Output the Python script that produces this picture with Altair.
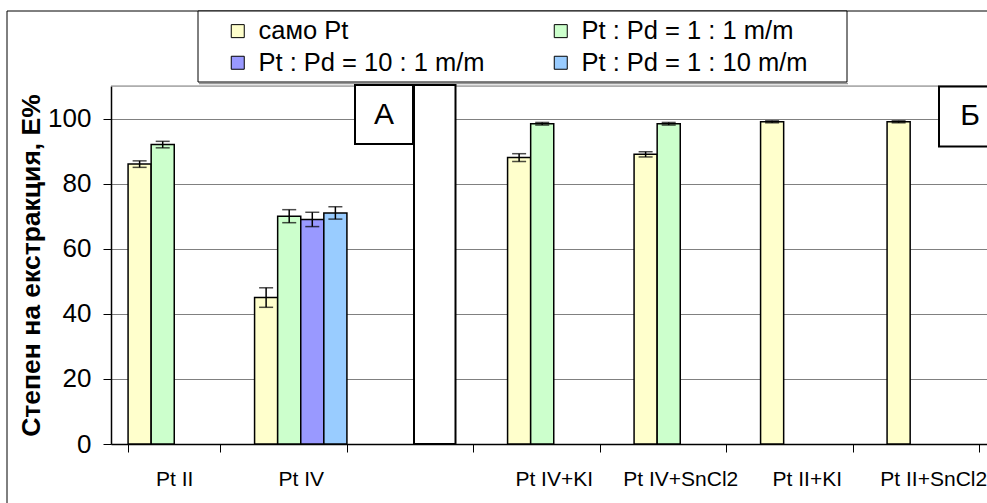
import altair as alt
import pandas as pd

# Categories on the x axis (" " is the empty slot between panels A and Б)
categories = ["Pt II", "Pt IV", " ", "Pt IV+KI", "Pt IV+SnCl2", "Pt II+KI", "Pt II+SnCl2"]
series = ["само Pt", "Pt : Pd = 1 : 1 m/m", "Pt : Pd = 10 : 1 m/m", "Pt : Pd = 1 : 10 m/m"]
colors = ["#FFFFCC", "#CCFFCC", "#9999FF", "#99CCFF"]

# Degree of extraction E% and its error, per series (None = not measured)
samo_pt = [86, 45, None, 88, 89, 99, 99]
samo_pt_err = [1.0, 3.0, None, 1.2, 0.8, 0.3, 0.3]
pd_1_1 = [92, 70, None, 98.4, 98.4, None, None]
pd_1_1_err = [1.0, 2.0, None, 0.4, 0.4, None, None]
pd_10_1 = [None, 69, None, None, None, None, None]
pd_10_1_err = [None, 2.2, None, None, None, None, None]
pd_1_10 = [None, 71, None, None, None, None, None]
pd_1_10_err = [None, 1.9, None, None, None, None, None]

values = [samo_pt, pd_1_1, pd_10_1, pd_1_10]
errors = [samo_pt_err, pd_1_1_err, pd_10_1_err, pd_1_10_err]

rows = []
for s, vals, errs in zip(series, values, errors):
    for c, v, e in zip(categories, vals, errs):
        if v is not None:
            rows.append({"category": c, "series": s, "value": v, "err": e})
df = pd.DataFrame(rows)
one = pd.DataFrame({"k": [0]})

FONT = "Liberation Sans"

x_enc = alt.X(
    "category:N",
    scale=alt.Scale(domain=categories, range=[0, 885.5], paddingInner=0.27, paddingOuter=0.135),
    axis=alt.Axis(
        title=None, labelAngle=0, tickBand="extent", tickSize=8, tickColor="black",
        domainColor="black", domainWidth=1.5, labelFont=FONT, labelFontSize=21,
        labelColor="black", labelPadding=16, grid=False,
    ),
)
xo_enc = alt.XOffset("series:N", scale=alt.Scale(domain=series, paddingInner=0, paddingOuter=0))
y_scale = alt.Scale(domain=[0, 110], nice=False)
y_axis = alt.Axis(
    values=[0, 20, 40, 60, 80, 100], title="Степен на екстракция, Е%",
    titleFont=FONT, titleFontSize=26.5, titleFontWeight="bold", titleColor="black",
    titleAngle=270, titleX=-80, titleY=179, titleAlign="center", titleBaseline="middle",
    labelFont=FONT, labelFontSize=26, labelColor="black", labelPadding=12,
    tickSize=8, tickColor="black", domainColor="black", domainWidth=1.5,
    grid=True, gridColor="#808080", gridWidth=1,
)

# outer chart frame
frame = alt.Chart(one).mark_rect(fill=None, stroke="black", strokeWidth=1).encode(
    x=alt.value(-104), x2=alt.value(1000), y=alt.value(-75), y2=alt.value(500)
)

# legend frame with its shadow
legend_shadow = alt.Chart(one).mark_rule(color="#999999", strokeWidth=1.5).encode(
    x=alt.value(88), x2=alt.value(737), y=alt.value(-2.5)
)
legend_box = alt.Chart(one).mark_rect(fill="white", stroke="black", strokeWidth=1).encode(
    x=alt.value(87), x2=alt.value(736), y=alt.value(-75), y2=alt.value(-4)
)

# top edge of the plot area
top_edge = alt.Chart(one).mark_rule(color="#808080", strokeWidth=1).encode(
    y=alt.datum(110, scale=y_scale), x=alt.value(0), x2=alt.value(900)
)

bars = alt.Chart(df).mark_bar(stroke="black", strokeWidth=1.5).encode(
    x=x_enc,
    xOffset=xo_enc,
    y=alt.Y("value:Q", scale=y_scale, axis=y_axis),
    fill=alt.Fill(
        "series:N",
        scale=alt.Scale(domain=series, range=colors),
        legend=alt.Legend(
            title=None, orient="none", legendX=114, legendY=-68, columns=2,
            direction="horizontal", columnPadding=63, rowPadding=5, padding=0,
            symbolType="square", symbolSize=169, symbolStrokeColor="black",
            symbolStrokeWidth=1, labelOffset=8,
            labelFont=FONT, labelFontSize=25.5, labelColor="black", labelLimit=400,
        ),
    ),
)

err = alt.Chart(df).transform_calculate(
    lo="datum.value - datum.err", hi="datum.value + datum.err"
)
err_line = err.mark_rule(color="black", strokeWidth=1.5).encode(
    x=x_enc, xOffset=xo_enc, y=alt.Y("lo:Q", scale=y_scale), y2="hi:Q"
)
cap_lo = err.mark_tick(color="black", thickness=1.5, size=14, orient="horizontal").encode(
    x=x_enc, xOffset=xo_enc, y=alt.Y("lo:Q", scale=y_scale)
)
cap_hi = err.mark_tick(color="black", thickness=1.5, size=14, orient="horizontal").encode(
    x=x_enc, xOffset=xo_enc, y=alt.Y("hi:Q", scale=y_scale)
)

# separator between panels and the panel labels
separator = alt.Chart(one).mark_rect(fill="white", stroke="black", strokeWidth=2).encode(
    x=alt.value(303), x2=alt.value(344.5), y=alt.value(-1), y2=alt.value(358)
)
box_a = alt.Chart(one).mark_rect(fill="white", stroke="black", strokeWidth=2).encode(
    x=alt.value(244), x2=alt.value(302), y=alt.value(-1), y2=alt.value(58)
)
box_b = alt.Chart(one).mark_rect(fill="white", stroke="black", strokeWidth=2).encode(
    x=alt.value(828), x2=alt.value(890), y=alt.value(0.5), y2=alt.value(60.5)
)
text_a = alt.Chart(one).mark_text(font=FONT, fontSize=30, color="black", baseline="middle").encode(
    x=alt.value(273), y=alt.value(29), text=alt.value("A")
)
text_b = alt.Chart(one).mark_text(font=FONT, fontSize=30, color="black", baseline="middle").encode(
    x=alt.value(859), y=alt.value(30), text=alt.value("Б")
)

chart = alt.layer(
    frame, legend_shadow, legend_box, top_edge, bars, err_line, cap_lo, cap_hi,
    separator, box_a, box_b, text_a, text_b,
).properties(
    width=876, height=358,
    autosize=alt.AutoSizeParams(type="none"),
    padding={"left": 111, "top": 86, "right": 0, "bottom": 59},
    background="white",
).configure_view(stroke=None).configure(font=FONT)

chart.save("out.html", embed_options={"renderer": "svg", "actions": False})
